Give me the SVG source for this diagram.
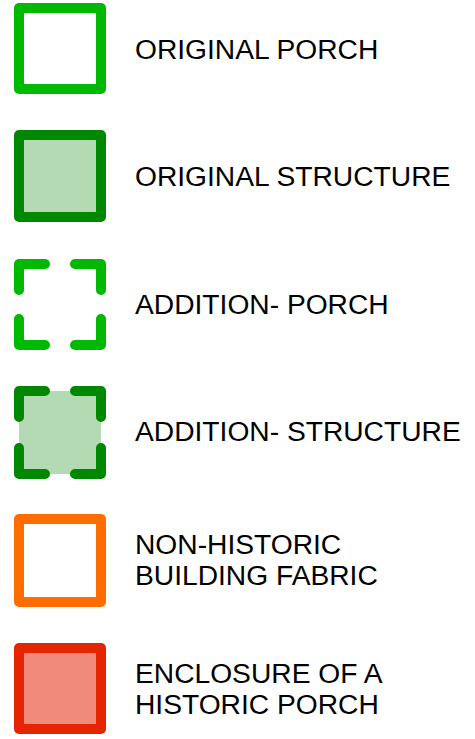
<svg xmlns="http://www.w3.org/2000/svg" width="475" height="739" viewBox="0 0 475 739">
<style>
.lbl{font-family:"Liberation Sans",Arial,sans-serif;font-size:28.2px;fill:#000}
.sw{stroke-width:10;stroke-linejoin:round;stroke-linecap:round;fill:none}
.g{stroke:#00b900}
.dg{stroke:#008800}
.or{stroke:#ff6c00}
.rd{stroke:#e52400}
</style>
<rect width="475" height="739" fill="#fff"/>
<g id="original-porch">
<rect x="19" y="8" width="82" height="81" class="sw g"/>
<text x="135" y="59" class="lbl">ORIGINAL PORCH</text>
</g>
<g id="original-structure">
<rect x="19" y="135" width="82" height="82" fill="#b4dab4"/>
<rect x="19" y="135" width="82" height="82" class="sw dg"/>
<text x="135" y="186" class="lbl">ORIGINAL STRUCTURE</text>
</g>
<g id="addition-porch">
<path d="M19 290V264H45M75 264H101V290M101 319V345H75M45 345H19V319" class="sw g"/>
<text x="135" y="314" class="lbl">ADDITION- PORCH</text>
</g>
<g id="addition-structure">
<rect x="19" y="391" width="82" height="83" fill="#b4dab4"/>
<path d="M19 417V391H45M75 391H101V417M101 448V474H75M45 474H19V448" class="sw dg"/>
<text x="135" y="441" class="lbl">ADDITION- STRUCTURE</text>
</g>
<g id="non-historic">
<rect x="19" y="519" width="82" height="83" class="sw or"/>
<text x="135" y="554" class="lbl">NON-HISTORIC</text>
<text x="135" y="585" class="lbl">BUILDING FABRIC</text>
</g>
<g id="enclosure">
<rect x="19" y="648" width="82" height="81" fill="#f08a7a"/>
<rect x="19" y="648" width="82" height="81" class="sw rd"/>
<text x="135" y="683" class="lbl">ENCLOSURE OF A</text>
<text x="135" y="714" class="lbl">HISTORIC PORCH</text>
</g>
<g id="connectors"></g>
</svg>
